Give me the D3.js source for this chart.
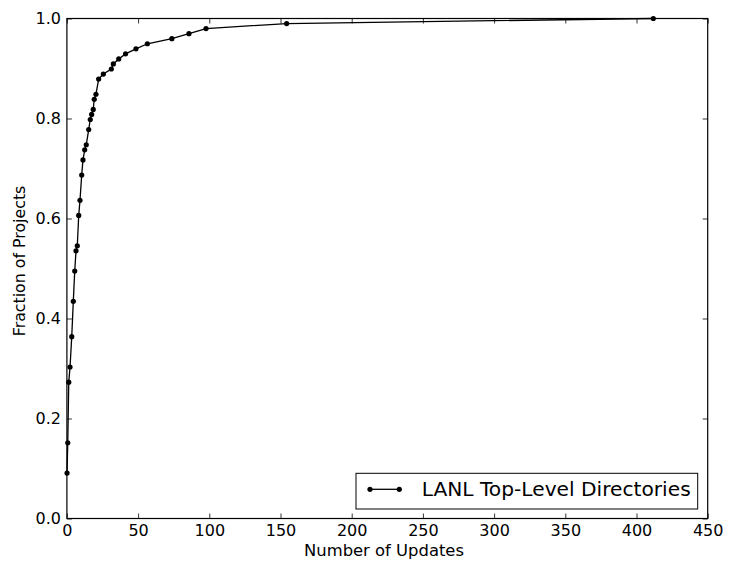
<!DOCTYPE html>
<html><head><meta charset="utf-8">
<script src="https://cdn.jsdelivr.net/npm/d3@7"></script>
<style>body{margin:0;background:#fff}svg{display:block}</style>
</head><body>
<script>
const updates = [0.1,0.6,1.3,2.2,3.4,4.5,5.5,6.4,7.3,8.3,9.2,10.4,11.3,12.5,13.6,15.3,16.4,17.4,18.5,19.2,20.4,22.3,25.6,31.2,32.6,36.4,41.2,48.5,56.5,73.7,85.7,97.7,154.3,411.8];
const fraction = [9,15,27,30,36,43,49,53,54,60,63,68,71,73,74,77,79,80,81,83,84,87,88,89,90,91,92,93,94,95,96,97,98,99].map(k=>k/99);
const xTicks = [0,50,100,150,200,250,300,350,400,450];
const yTicks = [0,0.2,0.4,0.6,0.8,1.0];
const seriesName = "LANL Top-Level Directories";
const xLabel = "Number of Updates", yLabel = "Fraction of Projects";

const W=729,H=561;
const L=66.9,R=707.7,T=18.5,B=518.5;
const svg=d3.select("body").append("svg").attr("width",W).attr("height",H);
const x=d3.scaleLinear().domain([0,450]).range([L,R]);
const y=d3.scaleLinear().domain([0,1]).range([B,T]);
const font="DejaVu Sans";
const data=updates.map((u,i)=>[u,fraction[i]]);

svg.append("path").datum(data)
  .attr("d",d3.line().x(d=>x(d[0])).y(d=>y(d[1])))
  .attr("fill","none").attr("stroke","#000").attr("stroke-width",1.3);
svg.append("g").selectAll("circle").data(data).join("circle")
  .attr("cx",d=>x(d[0])).attr("cy",d=>y(d[1])).attr("r",2.6).attr("fill","#000");

function styleAxis(g){g.select(".domain").remove();g.selectAll("line").attr("stroke","#000").attr("stroke-width",0.8);
  g.selectAll("text").attr("font-family",font).attr("font-size",16).attr("fill","#000");}
svg.append("g").attr("transform",`translate(0,${B})`)
  .call(d3.axisBottom(x).tickValues(xTicks).tickFormat(d3.format("d")).tickSizeInner(-5).tickPadding(6))
  .call(styleAxis);
svg.append("g").attr("transform",`translate(0,${T})`)
  .call(d3.axisTop(x).tickValues(xTicks).tickFormat("").tickSizeInner(-5))
  .call(styleAxis);
svg.append("g").attr("transform",`translate(${L},0)`)
  .call(d3.axisLeft(y).tickValues(yTicks).tickFormat(d3.format(".1f")).tickSizeInner(-5).tickPadding(6))
  .call(styleAxis);
svg.append("g").attr("transform",`translate(${R},0)`)
  .call(d3.axisRight(y).tickValues(yTicks).tickFormat("").tickSizeInner(-5))
  .call(styleAxis);

svg.append("rect").attr("x",L).attr("y",T).attr("width",R-L).attr("height",B-T)
  .attr("fill","none").attr("stroke","#000").attr("stroke-width",1.2);

svg.append("text").attr("x",384).attr("y",556).attr("text-anchor","middle")
  .attr("font-family",font).attr("font-size",16.4).text(xLabel);
svg.append("text").attr("transform",`translate(25,261) rotate(-90)`).attr("text-anchor","middle")
  .attr("font-family",font).attr("font-size",15.8).text(yLabel);

const lg=svg.append("g");
lg.append("rect").attr("x",356).attr("y",473.3).attr("width",341.7).attr("height",35.7)
  .attr("fill","#fff").attr("stroke","#000").attr("stroke-width",1);
lg.append("line").attr("x1",370).attr("x2",399.3).attr("y1",489.3).attr("y2",489.3).attr("stroke","#000").attr("stroke-width",1.3);
[370,399.3].forEach(cx=>lg.append("circle").attr("cx",cx).attr("cy",489.3).attr("r",2.6).attr("fill","#000"));
lg.append("text").attr("x",421.7).attr("y",496).attr("font-family",font).attr("font-size",20.2).text(seriesName);
</script>
</body></html>
